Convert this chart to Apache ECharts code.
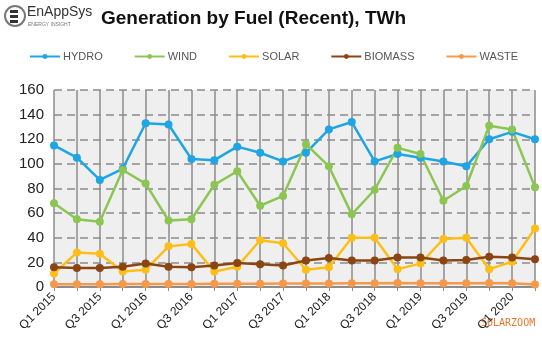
<!DOCTYPE html>
<html><head><meta charset="utf-8">
<script src="https://cdn.jsdelivr.net/npm/echarts@6/dist/echarts.min.js"></script>
<style>html,body{margin:0;padding:0;background:#fff}#c{width:542px;height:346px}</style>
</head><body><div id="c"></div>
<script>
const categories = ['Q1 2015','Q2 2015','Q3 2015','Q4 2015','Q1 2016','Q2 2016','Q3 2016','Q4 2016','Q1 2017','Q2 2017','Q3 2017','Q4 2017','Q1 2018','Q2 2018','Q3 2018','Q4 2018','Q1 2019','Q2 2019','Q3 2019','Q4 2019','Q1 2020','Q2 2020'];
const hydro   = [115,105,87,96,133,132,104,103,114,109,102,109,128,134,102,108,105,102,98,120,126,120];
const wind    = [68,55,53,95,84,54,55,83,94,66,74,116,98,59,79,113,108,70,82,131,128,81];
const solar   = [11,28,27,12.5,14,33,35,12.5,16.5,38,35.5,14,16,40,40,14.5,19,39,40,14.5,20.5,47.5];
const biomass = [16,15.5,15.5,16.5,19,16.5,16,17.5,19.5,18.5,17.5,21.5,23.5,21.5,21.5,24,24,21.5,22,24.5,24,22.5];
const waste   = [2.3,2.3,2.3,2.4,2.4,2.5,2.5,2.6,2.6,2.7,2.8,2.8,2.9,3,3,3.2,3.1,3,3,3.2,3.1,2];
const yTicks  = [0,20,40,60,80,100,120,140,160];

const colors = {HYDRO:'#1ea5e3', WIND:'#8cc652', SOLAR:'#fdbf17', BIOMASS:'#8a4512', WASTE:'#f6994a'};
const seriesDefs = [['HYDRO',hydro],['WIND',wind],['SOLAR',solar],['BIOMASS',biomass],['WASTE',waste]];

const chart = echarts.init(document.getElementById('c'), null, {renderer:'canvas'});
chart.setOption({
  animation:false,
  title:{text:'Generation by Fuel (Recent), TWh', left:96, top:4,
    textStyle:{fontFamily:'Liberation Sans, Arial', fontWeight:'bold', fontSize:19, color:'#111'}},
  legend:{top:46, left:24, width:520, itemGap:31, itemWidth:30, itemHeight:6,
    textStyle:{fontFamily:'Liberation Sans, Arial', fontSize:11, color:'#555', padding:[0,0,0,-2]},
    data:seriesDefs.map(d=>d[0])},
  grid:{left:54, right:7, top:90, bottom:59, show:true, backgroundColor:'#efefef', borderWidth:0},
  xAxis:{type:'category', data:categories, boundaryGap:false,
    axisLine:{lineStyle:{color:'#8c8c8c', width:2}},
    axisTick:{show:true, interval:0, length:4, lineStyle:{color:'#8c8c8c'}},
    splitLine:{show:true, interval:0, lineStyle:{color:'#8c8c8c', width:1.5}},
    axisLabel:{interval:1, rotate:45, margin:8, fontFamily:'Liberation Sans, Arial', fontSize:12, color:'#222'}},
  yAxis:{type:'value', min:0, max:160, interval:20,
    axisLine:{show:false}, axisTick:{show:false},
    splitLine:{lineStyle:{color:'#8c8c8c', type:[8,5], width:1.5}},
    axisLabel:{fontFamily:'Liberation Sans, Arial', fontSize:15, color:'#222', margin:10,
      formatter:v=>yTicks.includes(v)?String(v):''}},
  graphic:[
    {type:'circle', shape:{cx:15, cy:16, r:10}, style:{fill:'#fff', stroke:'#777', lineWidth:2}},
    {type:'rect', shape:{x:10, y:10, width:8, height:3}, style:{fill:'#333'}},
    {type:'rect', shape:{x:10, y:15, width:8, height:3}, style:{fill:'#333'}},
    {type:'rect', shape:{x:10, y:20, width:8, height:3}, style:{fill:'#333'}},
    {type:'text', left:27, top:5, style:{text:'EnAppSys', fontFamily:'Liberation Sans Narrow, Liberation Sans, Arial', fontSize:14, fill:'#333'}},
    {type:'text', left:28, top:22, style:{text:'ENERGY INSIGHT', fontFamily:'Liberation Sans, Arial', fontSize:5, fill:'#777'}},
    {type:'text', left:481, top:318, style:{text:'SOLARZOOM', fontFamily:'DejaVu Sans Mono', fontSize:10, fill:'#e8772e'}}
  ],
  series:seriesDefs.map(d=>({name:d[0], type:'line', data:d[1], symbol:'circle', symbolSize:8,
    lineStyle:{width:2.5, color:colors[d[0]]}, itemStyle:{color:colors[d[0]]}}))
});
</script></body></html>
